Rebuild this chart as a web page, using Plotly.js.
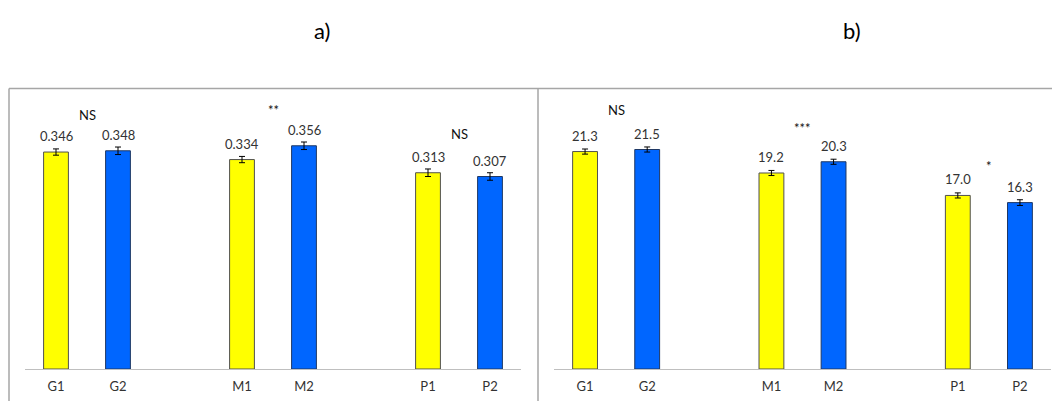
<!DOCTYPE html>
<html>
<head>
<meta charset="utf-8">
<script src="https://cdn.plot.ly/plotly-3.0.1.min.js"></script>
<style>html,body{margin:0;padding:0;background:#fff;}#chart{width:1052px;height:401px;}</style>
</head>
<body>
<div id="chart"></div>
<script>
// ---- data ----
const categories = ['G1', 'G2', 'M1', 'M2', 'P1', 'P2'];
const valuesA = [0.346, 0.348, 0.334, 0.356, 0.313, 0.307];
const errorsA = [0.005, 0.006, 0.005, 0.006, 0.006, 0.006];
const valuesB = [21.3, 21.5, 19.2, 20.3, 17.0, 16.3];
const errorsB = [0.25, 0.25, 0.25, 0.25, 0.25, 0.28];
const sigA = ['NS', '**', 'NS'];
const sigB = ['NS', '***', '*'];
const panelTitles = ['a)', 'b)'];

// ---- layout helpers ----
const FONT = 'Lato, "Open Sans", sans-serif';
const TXT = '#333333';
const slot = i => Math.floor(i / 2) * 3 + (i % 2);   // two bars per group, one empty slot between groups
const xs = categories.map((c, i) => slot(i));
const colors = categories.map((c, i) => i % 2 === 0 ? '#FFFF00' : '#0066FF');
const lines = categories.map((c, i) => i % 2 === 0 ? '#505050' : '#1F3864');

function barTrace(vals, errs, xa, ya) {
  return {
    type: 'bar', x: xs, y: vals, xaxis: xa, yaxis: ya, width: 0.4,
    marker: {color: colors, line: {color: lines, width: 1}},
    error_y: {type: 'data', array: errs, visible: true, color: '#000', thickness: 1, width: 3},
    hoverinfo: 'skip', showlegend: false
  };
}

const data = [
  barTrace(valuesA, errorsA, 'x', 'y'),
  barTrace(valuesB, errorsB, 'x2', 'y2')
];

const annotations = [];
function valueLabels(vals, digits, xr, yr) {
  vals.forEach((v, i) => annotations.push({
    x: xs[i], y: v, xref: xr, yref: yr, text: v.toFixed(digits),
    showarrow: false, yanchor: 'bottom', yshift: 6,
    font: {family: FONT, size: 13, color: TXT}
  }));
}
valueLabels(valuesA, 3, 'x', 'y');
valueLabels(valuesB, 1, 'x2', 'y2');

function sigLabels(sig, vals, shifts, xr, yr) {
  sig.forEach((s, g) => annotations.push({
    x: g * 3 + 0.5, y: Math.max(vals[2 * g], vals[2 * g + 1]), xref: xr, yref: yr,
    text: s, showarrow: false, yanchor: 'middle', yshift: shifts[g],
    font: {family: FONT, size: 13, color: '#111'}
  }));
}
sigLabels(sigA, valuesA, [36, 36, 39], 'x', 'y');
sigLabels(sigB, valuesB, [40, 34, 29], 'x2', 'y2');

const T = 100, B = 32, H = 401, PH = H - T - B;
const py = p => (H - B - p) / PH;   // pixel y -> paper y
const px = p => p / 1052;           // pixel x -> paper x

const titleX = [322, 852];
panelTitles.forEach((t, k) => annotations.push({
  x: px(titleX[k]), y: py(30), xref: 'paper', yref: 'paper', text: t, showarrow: false,
  xanchor: 'center', yanchor: 'middle',
  font: {family: FONT, size: 22, color: '#000'}
}));

const xaxisBase = {
  range: [-0.5, 7.5], tickmode: 'array', tickvals: xs, ticktext: categories,
  showline: true, linecolor: '#BFBFBF', linewidth: 1, ticks: '', showgrid: false, zeroline: false,
  ticklabelstandoff: 5,
  tickfont: {family: FONT, size: 13, color: TXT}, fixedrange: true
};
const yaxisBase = {visible: false, showgrid: false, zeroline: false, fixedrange: true};

const border = {color: '#A6A6A6', width: 1.5};

const layout = {
  width: 1052, height: 401,
  margin: {l: 0, r: 0, t: T, b: B},
  paper_bgcolor: '#fff', plot_bgcolor: 'rgba(0,0,0,0)',
  xaxis: Object.assign({}, xaxisBase, {domain: [px(25), px(521)], anchor: 'y'}),
  xaxis2: Object.assign({}, xaxisBase, {domain: [px(554), px(1051)], anchor: 'y2'}),
  yaxis: Object.assign({}, yaxisBase, {range: [0, 0.429], anchor: 'x'}),
  yaxis2: Object.assign({}, yaxisBase, {range: [0, 26.35], anchor: 'x2'}),
  bargap: 0,
  annotations: annotations,
  shapes: [
    {type: 'line', xref: 'paper', yref: 'paper', x0: px(9), x1: px(1052), y0: py(88.5), y1: py(88.5), line: border},
    {type: 'line', xref: 'paper', yref: 'paper', x0: px(9), x1: px(9), y0: py(88.5), y1: py(402), line: border},
    {type: 'line', xref: 'paper', yref: 'paper', x0: px(538), x1: px(538), y0: py(88.5), y1: py(402), line: border}
  ]
};

Plotly.newPlot('chart', data, layout, {staticPlot: true, displayModeBar: false});
</script>
</body>
</html>
